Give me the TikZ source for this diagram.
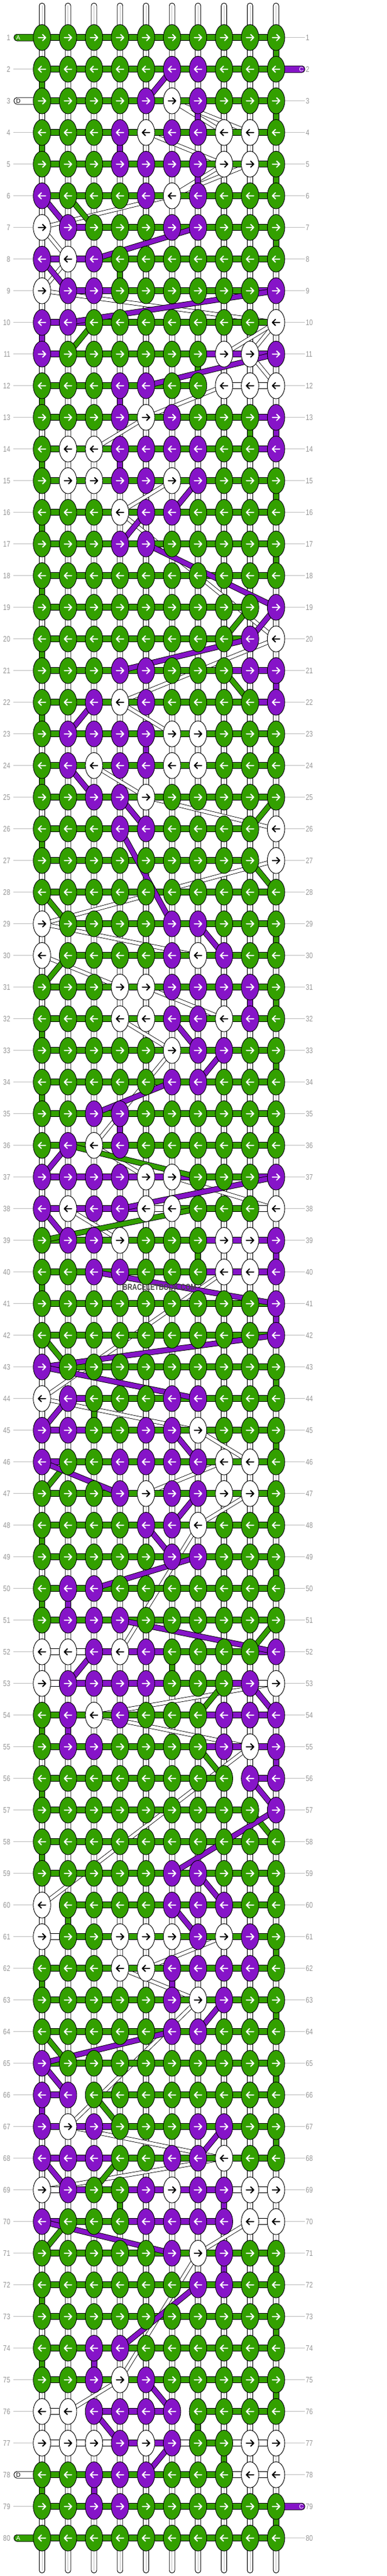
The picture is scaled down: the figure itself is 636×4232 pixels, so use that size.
\documentclass[tikz,border=0pt]{standalone}
\usepackage{fontspec}
\usepackage{graphicx}
\setmainfont{Liberation Sans}
\usetikzlibrary{shapes.geometric}
\definecolor{grn}{RGB}{51,160,0}
\definecolor{pur}{RGB}{134,20,200}
\definecolor{lbl}{RGB}{150,150,150}
\definecolor{guide}{RGB}{190,190,190}
\pgfdeclarelayer{strings}
\pgfdeclarelayer{bands}
\pgfdeclarelayer{bars}
\pgfdeclarelayer{diag}
\pgfsetlayers{strings,bands,bars,diag,main}
\def\colG{grn}\def\colP{pur}\def\colW{white}
\newcommand\defrow[2]{\foreach \cc [count=\jj] in {#2}{\expandafter\xdef\csname kn@#1@\jj\endcsname{\cc}}}
\newcommand\setbar[3]{\expandafter\xdef\csname br@#1@#2\endcsname{#3}}
\newcommand\vseg[3]{\pgfmathsetmacro\vx{69+42.74*(#2-1)}\pgfmathsetmacro\vy{61.7+52*(#1-1)}\edef\vc{\csname col#3\endcsname}\draw[fill=\vc, line width=0.9pt] (\vx-4.5,\vy) rectangle (\vx+4.5,\vy+52);}
\defrow{1}{G,G,G,G,G,G,G,G,G,G}
\defrow{2}{G,G,G,G,G,P,P,G,G,G}
\defrow{3}{G,G,G,G,P,W,P,G,G,G}
\defrow{4}{G,G,G,P,W,P,P,W,W,G}
\defrow{5}{G,G,G,P,P,P,P,W,W,G}
\defrow{6}{P,G,G,G,P,W,P,G,G,G}
\defrow{7}{W,P,G,G,G,P,P,G,G,G}
\defrow{8}{P,W,P,G,G,G,G,G,G,G}
\defrow{9}{W,P,P,G,G,G,G,G,G,P}
\defrow{10}{P,P,G,G,G,G,G,G,G,W}
\defrow{11}{P,G,G,G,G,G,G,W,W,P}
\defrow{12}{G,G,G,P,P,G,G,W,W,W}
\defrow{13}{G,G,G,P,W,P,G,G,G,P}
\defrow{14}{G,W,W,P,P,P,P,G,G,P}
\defrow{15}{G,W,W,P,P,W,P,G,G,G}
\defrow{16}{G,G,G,W,P,P,G,G,G,G}
\defrow{17}{G,G,G,P,P,G,G,G,G,G}
\defrow{18}{G,G,G,G,G,G,G,G,G,G}
\defrow{19}{G,G,G,G,G,G,G,G,G,P}
\defrow{20}{G,G,G,G,G,G,G,G,P,W}
\defrow{21}{G,G,G,P,P,G,G,G,P,P}
\defrow{22}{G,G,P,W,P,G,G,G,G,P}
\defrow{23}{G,P,P,P,P,W,W,G,G,G}
\defrow{24}{G,P,W,P,P,W,W,G,G,G}
\defrow{25}{G,G,P,P,W,G,G,G,G,G}
\defrow{26}{G,G,G,P,P,G,G,G,G,W}
\defrow{27}{G,G,G,G,G,G,G,G,G,W}
\defrow{28}{G,G,G,G,G,G,G,G,G,G}
\defrow{29}{W,G,G,G,G,P,P,G,G,G}
\defrow{30}{W,G,G,G,G,P,W,P,G,G}
\defrow{31}{G,G,G,W,W,P,P,P,P,G}
\defrow{32}{G,G,G,W,W,P,P,W,P,G}
\defrow{33}{G,G,G,G,G,W,P,P,G,G}
\defrow{34}{G,G,G,G,G,P,P,G,G,G}
\defrow{35}{G,G,P,P,G,G,G,G,G,G}
\defrow{36}{G,P,W,P,G,G,G,G,G,G}
\defrow{37}{P,P,P,P,W,W,G,G,G,P}
\defrow{38}{P,W,P,P,W,W,G,G,G,W}
\defrow{39}{G,P,P,W,G,G,G,W,W,P}
\defrow{40}{G,G,P,P,G,G,G,W,W,P}
\defrow{41}{G,G,G,G,G,G,G,G,G,P}
\defrow{42}{G,G,G,G,G,G,G,G,G,P}
\defrow{43}{P,G,G,G,G,G,G,G,G,G}
\defrow{44}{W,P,G,G,G,P,P,G,G,G}
\defrow{45}{P,P,G,G,P,P,W,G,G,G}
\defrow{46}{P,G,G,P,P,P,P,W,W,G}
\defrow{47}{G,G,G,P,W,P,P,W,W,G}
\defrow{48}{G,G,G,G,P,P,W,G,G,G}
\defrow{49}{G,G,G,G,G,P,P,G,G,G}
\defrow{50}{G,P,P,G,G,G,G,G,G,G}
\defrow{51}{G,P,P,P,G,G,G,G,G,G}
\defrow{52}{W,W,P,W,P,G,G,G,G,P}
\defrow{53}{W,P,P,P,P,G,G,G,P,W}
\defrow{54}{G,P,W,P,G,G,G,P,P,P}
\defrow{55}{G,P,P,G,G,G,G,P,W,P}
\defrow{56}{G,G,G,G,G,G,G,G,P,P}
\defrow{57}{G,G,G,G,G,G,G,G,G,P}
\defrow{58}{G,G,G,G,G,G,G,G,G,G}
\defrow{59}{G,G,G,G,G,P,P,G,G,G}
\defrow{60}{W,G,G,G,G,P,P,P,G,G}
\defrow{61}{W,G,G,W,W,W,P,W,P,G}
\defrow{62}{G,G,G,W,W,P,P,P,P,G}
\defrow{63}{G,G,G,G,G,P,W,P,G,G}
\defrow{64}{G,G,G,G,G,P,P,G,G,G}
\defrow{65}{P,G,G,G,G,G,G,G,G,G}
\defrow{66}{P,P,G,G,G,G,G,G,G,G}
\defrow{67}{P,W,P,G,G,G,P,P,G,G}
\defrow{68}{P,P,P,G,G,P,P,W,G,G}
\defrow{69}{W,P,G,G,P,W,P,P,W,W}
\defrow{70}{P,G,G,G,P,P,P,P,W,W}
\defrow{71}{G,G,G,G,G,P,W,P,G,G}
\defrow{72}{G,G,G,G,G,G,P,P,G,G}
\defrow{73}{G,G,G,G,G,G,G,G,G,G}
\defrow{74}{G,G,P,P,G,G,G,G,G,G}
\defrow{75}{G,G,P,W,P,G,G,G,G,G}
\defrow{76}{W,W,P,P,P,P,G,G,G,G}
\defrow{77}{W,W,W,P,W,P,G,G,W,W}
\defrow{78}{G,G,P,P,P,G,G,G,W,W}
\defrow{79}{G,G,P,P,G,G,G,G,G,G}
\defrow{80}{G,G,G,G,G,G,G,G,G,G}
\foreach \ra/\ja/\ca in {7/1/N,7/2/P,8/1/P,8/2/P,9/1/N,9/2/P,9/3/P,9/9/P,10/1/P,10/2/P,11/1/P,11/7/P,11/8/P,11/9/P,12/7/N,12/8/W,12/9/W,13/9/P,14/9/P,19/9/N,20/9/N,21/8/P,21/9/P,22/9/P,26/9/N,27/9/N,29/1/N,30/1/N,37/1/P,37/2/P,37/3/P,37/4/P,37/5/P,37/6/P,37/9/P,38/1/P,38/2/P,38/3/P,38/4/P,38/5/W,38/9/W,39/7/P,39/8/P,39/9/P,40/7/P,40/8/P,40/9/P,43/1/P,44/1/N,44/2/P,45/1/P,45/2/P,46/1/P,52/1/W,52/2/W,52/3/P,52/4/P,52/5/P,52/9/P,53/1/W,53/2/P,53/3/P,53/4/P,53/5/P,53/8/P,53/9/W,54/7/P,54/8/P,54/9/P,55/7/P,55/8/P,55/9/P,56/8/N,56/9/P,57/9/N,60/1/N,61/1/W,66/1/P,66/2/N,67/1/P,67/2/P,67/3/P,68/1/P,68/2/P,68/3/P,69/1/W,69/2/P,69/4/P,69/5/P,69/6/P,69/7/P,69/8/W,69/9/W,70/1/P,70/4/P,70/5/P,70/6/P,70/7/P,70/8/N,70/9/W,76/1/W,76/2/N,76/3/P,76/4/P,76/5/P,76/6/N,77/1/W,77/2/W,77/3/W,77/4/P,77/5/P,77/6/W,77/8/W,77/9/W,78/8/W,78/9/W}{\setbar{\ra}{\ja}{\ca}}
\tikzset{
  knotshape/.style={draw=black, line width=0.9pt},
  arrowline/.style={line width=1.9pt, line cap=round, line join=round},
  rowlbl/.style={inner sep=0pt, text=lbl, font=\fontsize{13}{13}\selectfont},
  stubtxt/.style={inner sep=0pt, font=\fontsize{10}{10}\selectfont},
  guideline/.style={guide, line width=0.9pt},
  darkband/.style={line width=6.8pt, black},
  lightband/.style={line width=5.2pt, white}
}
\begin{document}
\begin{tikzpicture}[x=1pt,y=-1pt]
\useasboundingbox (0,0) rectangle (636,4232);
% knots
\foreach \R in {1,...,80}{
  \pgfmathsetmacro\Y{61.7+52*(\R-1)}
  \foreach \J in {1,...,10}{
    \pgfmathsetmacro\X{69+42.74*(\J-1)}
    \edef\kc{\csname kn@\R @\J\endcsname}
    \edef\fc{\csname col\kc\endcsname}
    \if W\kc \def\ac{black}\else\def\ac{white}\fi
    \coordinate (k\R-\J) at (\X,\Y);
    \draw[knotshape, fill=\fc] (k\R-\J) ellipse [x radius=14.3, y radius=21.3];
    \ifodd\R
      \draw[arrowline, color=\ac] (\X-6,\Y) -- (\X+6,\Y) (\X+1,\Y-5) -- (\X+6,\Y) -- (\X+1,\Y+5);
    \else
      \draw[arrowline, color=\ac] (\X+6,\Y) -- (\X-6,\Y) (\X-1,\Y-5) -- (\X-6,\Y) -- (\X-1,\Y+5);
    \fi
  }
}
% row labels, guides, column strings
\begin{pgfonlayer}{strings}
\fill[white] (0,0) rectangle (636,4232);
\foreach \R in {1,...,80}{
  \pgfmathsetmacro\Y{61.7+52*(\R-1)}
  \draw[guideline] (22,\Y) -- (55,\Y);
  \draw[guideline] (468,\Y) -- (501,\Y);
  \node[rowlbl, anchor=east] (ll\R) at (17,\Y) {\scalebox{0.8}[1]{\R}};
  \node[rowlbl, anchor=west] (rl\R) at (502.5,\Y) {\scalebox{0.8}[1]{\R}};
}
\foreach \J in {1,...,10}{
  \pgfmathsetmacro\X{69+42.74*(\J-1)}
  \draw[fill=white, line width=0.9pt, rounded corners=4.4pt] (\X-4.5,5) rectangle (\X+4.5,4227);
  \draw[guide, line width=0.6pt] (\X,9) -- (\X,4223);
}
\end{pgfonlayer}
% white thread bands
\begin{pgfonlayer}{bands}
\def\bandlist{3/6/4/8,3/6/4/9,4/5/5/8,5/8/6/6,5/9/6/6,6/6/7/1,7/1/8/2,8/2/9/1,9/1/10/10,10/10/11/8,10/10/11/9,11/9/12/10,12/8/13/5,13/5/14/3,15/6/16/4,16/4/20/10,20/10/22/4,22/4/23/6,24/3/25/5,25/5/26/10,27/10/29/1,29/1/30/7,30/1/31/4,31/5/32/8,32/4/33/6,33/6/36/3,36/3/37/5,37/6/38/10,38/2/39/4,40/8/44/1,44/1/45/7,45/7/46/9,46/8/47/5,47/9/48/7,48/7/52/4,53/10/54/3,54/3/55/9,55/9/60/1,61/8/62/5,62/4/63/7,63/7/67/2,67/2/68/8,68/8/69/1,70/9/71/7,71/7/75/4,75/4/76/2}
\foreach \ra/\ca/\rb/\cb in \bandlist{\draw[darkband] (k\ra-\ca) -- (k\rb-\cb);}
\foreach \ra/\ca/\rb/\cb in \bandlist{\draw[lightband] (k\ra-\ca) -- (k\rb-\cb);}
\end{pgfonlayer}
% horizontal bars and vertical segments
\begin{pgfonlayer}{bars}
\foreach \R in {1,...,80}{
  \pgfmathsetmacro\Y{61.7+52*(\R-1)}
  \foreach \J in {1,...,9}{
    \pgfmathsetmacro\Xa{69+42.74*(\J-1)}
    \pgfmathsetmacro\Xb{\Xa+42.74}
    \ifcsname br@\R @\J\endcsname \edef\bc{\csname br@\R @\J\endcsname}\else\def\bc{G}\fi
    \if N\bc\else
      \edef\fc{\csname col\bc\endcsname}
      \draw[fill=\fc, line width=0.9pt] (\Xa,\Y-5) rectangle (\Xb,\Y+5);
    \fi
  }
}
\foreach \R in {1,...,79}{
  \pgfmathtruncatemacro\Rn{\R+1}
  \ifodd\R \def\C{10}\else\def\C{1}\fi
  \edef\ka{\csname kn@\R @\C\endcsname}
  \edef\kb{\csname kn@\Rn @\C\endcsname}
  \ifx\ka\kb \if W\ka\else \vseg{\R}{\C}{\ka}\fi\fi
}
\foreach \ra/\ca/\cl in {3/7/P,4/4/P,5/7/P,12/4/P,14/4/P,23/5/P,31/9/P,35/4/P,50/2/P,54/2/P,62/6/P,69/8/P,71/8/P,74/3/P,78/3/P,8/4/G,11/7/G,13/9/G,39/7/G,44/3/G,52/6/G,60/2/G,69/4/G,76/7/G,77/8/G}{\vseg{\ra}{\ca}{\cl}}
% stubs
\foreach \R/\fl/\tc/\lt in {1/grn/white/A,3/white/black/D,78/white/black/D,80/grn/white/A}{
  \pgfmathsetmacro\Y{61.7+52*(\R-1)}
  \draw[fill=\fl, line width=0.9pt, rounded corners=5pt] (23,\Y-5.5) rectangle (69,\Y+5.5);
  \node[stubtxt, text=\tc, anchor=west] (sl\R) at (26.5,\Y) {\lt};
}
\foreach \R in {2,79}{
  \pgfmathsetmacro\Y{61.7+52*(\R-1)}
  \draw[fill=pur, line width=0.9pt, rounded corners=5pt] (453.7,\Y-5.5) rectangle (501,\Y+5.5);
  \node[stubtxt, text=white, anchor=east] (sr\R) at (499,\Y) {C};
}
\end{pgfonlayer}
% thick diagonal threads
\begin{pgfonlayer}{diag}
\foreach \cl/\ra/\ca/\rb/\cb in {pur/2/6/3/5,pur/6/1/7/2,grn/6/2/7/3,pur/7/7/8/3,pur/8/1/9/2,pur/9/10/10/2,grn/10/3/11/2,pur/11/10/12/5,pur/15/7/16/6,pur/16/5/17/4,pur/17/5/19/10,grn/19/9/20/8,pur/19/10/20/9,pur/20/9/21/4,grn/21/8/22/9,pur/22/3/23/2,pur/24/2/25/3,pur/25/4/26/5,grn/25/10/26/9,pur/26/4/29/6,grn/27/9/28/10,grn/28/1/29/2,pur/29/7/30/8,grn/30/2/31/1,pur/32/6/33/7,pur/33/8/34/7,pur/34/6/35/3,pur/36/2/37/1,grn/36/2/37/7,pur/37/10/38/4,grn/38/7/39/1,pur/38/1/39/2,pur/40/3/41/10,pur/42/10/43/1,grn/42/1/43/2,pur/43/1/44/7,pur/44/2/45/1,pur/45/6/46/7,grn/46/2/47/1,pur/46/1/47/4,pur/47/7/48/6,pur/48/5/49/6,pur/49/7/50/3,pur/51/4/52/10,grn/51/10/52/9,pur/52/3/53/2,grn/53/8/54/7,pur/53/9/54/10,grn/55/7/56/8,pur/56/9/57/10,grn/57/9/58/10,pur/57/10/59/6,pur/59/7/60/8,pur/60/6/61/7,pur/63/8/64/7,pur/64/6/65/1,grn/64/1/65/2,pur/65/1/66/2,grn/66/3/67/4,pur/67/8/68/7,pur/68/1/69/2,grn/68/4/69/3,grn/70/2/71/1,pur/70/1/71/6,pur/72/7/74/4,pur/75/5/76/6,pur/76/3/77/4,pur/77/6/78/5}{
  \draw[line width=9.4pt, black] (k\ra-\ca) -- (k\rb-\cb);
  \draw[line width=7.6pt, color=\cl] (k\ra-\ca) -- (k\rb-\cb);
}
\end{pgfonlayer}
\node[inner sep=0pt, text={rgb,255:red,70;green,70;blue,70}, font=\bfseries\fontsize{14}{14}\selectfont] (wm) at (262,2115) {\scalebox{0.78}[1]{BRACELETBOOK.COM}};
\end{tikzpicture}
\end{document}
